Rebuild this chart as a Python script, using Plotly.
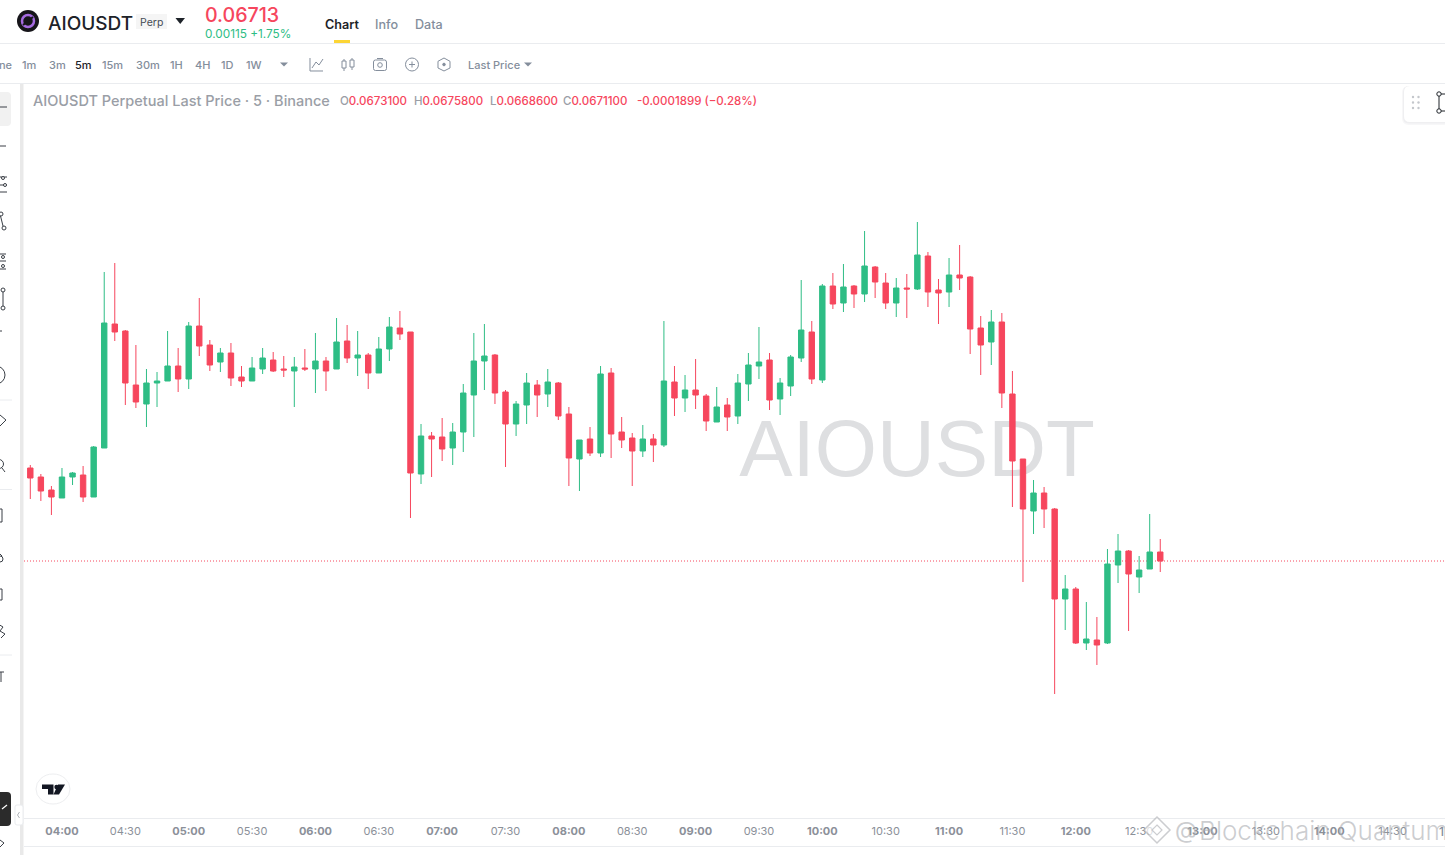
import pandas as pd
import plotly.graph_objects as go

W, H = 1445, 855
PLOT_L, PLOT_T, PLOT_B = 24, 84, 818

# Candle values, price x 1e5 (5 minute candles from 03:45)
highs_raw = [6903,6885,6861,6897,6889,6901,6941,7289,7307,7173,
             7143,7095,7089,7171,7137,7189,7237,7153,7137,7147,
             7101,7119,7137,7129,7121,7119,7135,7167,7119,7197,
             7183,7171,7127,7159,7199,7211,7169,6985,6969,6997,
             6987,7065,7167,7185,7125,7053,7031,7087,7073,7095,
             7069,7019,6953,6979,7101,7097,6999,6967,6983,6965,
             7191,7101,7083,7115,7045,7059,7037,7085,7127,7179,
             7127,7077,7123,7273,7191,7265,7287,7305,7263,7371,
             7301,7287,7277,7285,7389,7329,7275,7317,7343,7281,
             7201,7213,7207,7091,6915,6873,6859,6817,6683,6659,
             6629,6599,6735,6765,6733,6721,6805,6755]
lows_raw = [6835,6831,6803,6837,6863,6829,6839,6937,7151,7023,
            7017,6979,7019,7071,7049,7055,7121,7091,7089,7061,
            7059,7071,7085,7089,7079,7019,7091,7047,7051,7095,
            7107,7081,7055,7087,7111,7153,6797,6865,6879,6911,
            6903,6929,6959,7053,7025,6899,6961,6985,6999,7019,
            6993,6861,6851,6921,6919,6917,6937,6861,6919,6909,
            6939,7001,7009,7015,6971,6989,6971,6985,7031,7075,
            7013,7003,7041,7109,7065,7067,7215,7209,7217,7229,
            7237,7215,7199,7197,7253,7219,7185,7219,7253,7125,
            7083,7103,7017,6819,6669,6765,6777,6445,6573,6545,
            6533,6503,6545,6667,6571,6647,6695,6689]
opens_raw = [6897,6879,6853,6837,6879,6883,6839,6937,7185,7171,
             7063,7025,7067,7071,7101,7075,7181,7143,7109,7127,
             7079,7071,7095,7113,7095,7091,7097,7095,7111,7095,
             7151,7117,7123,7087,7135,7177,7169,6885,6961,6959,
             6937,6969,7043,7111,7123,7049,6985,7023,7063,7045,
             7067,7005,6915,6955,6927,7087,6969,6957,6931,6955,
             6943,7069,7037,7053,7041,6989,7023,7001,7065,7101,
             7113,7035,7061,7117,7169,7073,7261,7227,7261,7245,
             7299,7267,7227,7257,7255,7321,7253,7249,7283,7279,
             7177,7149,7189,7045,6915,6811,6847,6815,6635,6655,
             6547,6553,6547,6703,6731,6679,6695,6729]
closes_raw = [6877,6851,6839,6879,6887,6839,6939,7187,7169,7067,
              7029,7067,7071,7101,7075,7181,7141,7103,7127,7077,
              7071,7097,7117,7091,7093,7099,7095,7111,7091,7149,
              7117,7123,7087,7135,7179,7165,6887,6961,6955,6935,
              6969,7047,7111,7121,7047,6985,7025,7067,7043,7069,
              7001,6917,6953,6927,7085,6965,6953,6931,6955,6943,
              7071,7037,7053,7043,6991,7019,6999,7067,7103,7109,
              7033,7067,7119,7173,7075,7261,7225,7259,7245,7301,
              7269,7227,7257,7255,7323,7249,7247,7283,7277,7175,
              7143,7189,7047,6911,6815,6847,6815,6635,6655,6547,
              6555,6543,6705,6731,6685,6693,6729,6711]
times = pd.date_range("2025-01-01 03:45", periods=len(opens_raw), freq="5min")

last_price = 0.06711
tick_labels = ["04:00","04:30","05:00","05:30","06:00","06:30","07:00","07:30","08:00",
               "08:30","09:00","09:30","10:00","10:30","11:00","11:30","12:00","12:30",
               "13:00","13:30","14:00","14:30"]
tick_vals = ["2025-01-01 " + t for t in tick_labels]
tick_text = [f"<b>{t}</b>" if t.endswith(":00") else t for t in tick_labels]

intervals = [("1m",22),("3m",49),("5m",75),("15m",102),("30m",136),("1H",170),("4H",195),("1D",221),("1W",246)]
ohlc_labels = [("O","0.0673100",340),("H","0.0675800",414),("L","0.0668600",490),("C","0.0671100",563)]

RED, GREEN = "#F6465D", "#2EBD85"
GREY, LINE = "#848E9C", "#EAECEF"
FONT = "Inter, Roboto, sans-serif"


def X(x): return x / W
def Y(y): return 1 - y / H


shapes, annos = [], []


def seg(x0, y0, x1, y1, color=GREY, width=1, dash="solid"):
    shapes.append(dict(type="line", xref="paper", yref="paper", x0=X(x0), y0=Y(y0), x1=X(x1), y1=Y(y1),
                       line=dict(color=color, width=width, dash=dash), layer="above"))


def rect(x0, y0, x1, y1, fill, line=None, width=1):
    shapes.append(dict(type="rect", xref="paper", yref="paper", x0=X(x0), y0=Y(y0), x1=X(x1), y1=Y(y1),
                       fillcolor=fill, line=dict(color=line or "rgba(0,0,0,0)", width=width if line else 0), layer="above"))


def circ(cx, cy, rx, ry=None, fill="rgba(0,0,0,0)", line=GREY, width=1):
    ry = rx if ry is None else ry
    shapes.append(dict(type="circle", xref="paper", yref="paper", x0=X(cx-rx), y0=Y(cy-ry), x1=X(cx+rx), y1=Y(cy+ry),
                       fillcolor=fill, line=dict(color=line or "rgba(0,0,0,0)", width=width if line else 0), layer="above"))


def poly(pts, fill="rgba(0,0,0,0)", line=GREY, width=1, close=True):
    d = "M" + " L".join(f"{X(a):.5f},{Y(b):.5f}" for a, b in pts) + (" Z" if close else "")
    shapes.append(dict(type="path", xref="paper", yref="paper", path=d, fillcolor=fill,
                       line=dict(color=line or "rgba(0,0,0,0)", width=width if line else 0), layer="above"))


def rrect(x0, y0, x1, y1, r, fill, line=None, width=1):
    f = lambda a, b: f"{X(a):.5f},{Y(b):.5f}"
    d = (f"M{f(x0+r,y0)} L{f(x1-r,y0)} Q{f(x1,y0)} {f(x1,y0+r)} L{f(x1,y1-r)} Q{f(x1,y1)} {f(x1-r,y1)} "
         f"L{f(x0+r,y1)} Q{f(x0,y1)} {f(x0,y1-r)} L{f(x0,y0+r)} Q{f(x0,y0)} {f(x0+r,y0)} Z")
    shapes.append(dict(type="path", xref="paper", yref="paper", path=d, fillcolor=fill,
                       line=dict(color=line or "rgba(0,0,0,0)", width=width if line else 0), layer="above"))


def txt(x, y, s, size, color=GREY, anchor="left", weight=None, family=FONT):
    annos.append(dict(xref="paper", yref="paper", x=X(x), y=Y(y), text=s, showarrow=False, xanchor=anchor,
                      yanchor="middle", borderpad=0, borderwidth=0,
                      font=dict(size=size, color=color, family=family, weight=weight)))


# Header
circ(28, 21, 11, fill="#16151a", line=None)
circ(28, 21, 6, line="#A56BE0", width=2.5)
seg(23, 25, 33, 17, "#16151a", 2)
txt(48, 23.5, "AIOUSDT", 19, "#1E2329", weight=500)
rect(136, 14, 167, 29, "#F5F5F5")
txt(151.5, 22, "Perp", 10.5, "#474D57", "center")
poly([(175.5, 18), (185, 18), (180.2, 24)], fill="#1E2329", line=None)
txt(205, 15.5, "0.06713", 19.6, RED, weight=500)
txt(205, 34, "0.00115 +1.75%", 11.8, GREEN)
txt(325, 24.5, "Chart", 12.6, "#1E2329", weight=600)
txt(375, 24.5, "Info", 12.6, GREY, weight=500)
txt(415, 24.5, "Data", 12.6, GREY, weight=500)
rect(334, 40, 350, 43, "#FCD535")
seg(0, 43.5, W, 43.5, LINE)
seg(0, 83.5, W, 83.5, LINE)

# Interval row
txt(-1, 65, "ne", 11, GREY, weight=500)
for lab, x in intervals:
    txt(x, 65, lab, 11, "#1E2329" if lab == "5m" else GREY, weight=500)
poly([(280, 62.5), (288, 62.5), (284, 66.5)], fill=GREY, line=None)
poly([(310, 58), (310, 71), (323, 71)], close=False)
poly([(312, 68), (316, 62), (319, 65), (323, 59)], close=False)
seg(344, 59, 344, 71); rect(342, 61, 346, 68, "white", GREY)
seg(352, 58, 352, 70); rect(350, 60, 354, 67, "white", GREY)
rrect(373.5, 60, 386.5, 70.5, 2, "white", GREY); circ(380, 65, 2.3); seg(377, 58.5, 383, 58.5)
circ(412, 64.5, 6.5); seg(409, 64.5, 415, 64.5); seg(412, 61.5, 412, 67.5)
poly([(444, 58), (450, 61.3), (450, 68), (444, 71), (438, 68), (438, 61.3)]); circ(444, 64.5, 1.3, fill=GREY)
txt(468, 65.5, "Last Price", 11, GREY, weight=500)
poly([(524, 62.5), (532, 62.5), (528, 66.5)], fill=GREY, line=None)

# Chart legend
txt(33, 100.5, "AIOUSDT Perpetual Last Price · 5 · Binance", 14.5, "#9A9EA6", weight=500)
def sp(c, s): return f'<span style="color:{c}">{s}</span>'
for letter, value, xpos in ohlc_labels:
    txt(xpos, 100.5, letter + sp(RED, value), 11.5, "#9A9EA6", weight=500)
txt(637, 100.5, "-0.0001899 (−0.28%)", 11.5, RED, weight=500)

# Left drawing bar (cut off by the page edge)
rect(20, 84, 23.5, H, "#E9E9E9")
rrect(-6, 92, 11, 126, 4, "#F1F1F1")
INK = "#3A3F46"
seg(0, 107, 7, 107, INK)
seg(0, 146, 6, 146, INK)
for yy in (177, 185, 192):
    seg(0, yy, 7, yy, INK)
circ(3, 178, 1.5, fill="white", line=INK); circ(5, 185, 1.5, fill="white", line=INK)
poly([(0, 214), (3, 226), (5, 228)], line=INK, close=False)
circ(1, 214, 2, fill="white", line=INK); circ(4, 228, 2, fill="white", line=INK)
for yy in (254, 261, 269):
    seg(0, yy, 6, yy, INK)
circ(3, 257, 1.5, fill="white", line=INK); circ(3, 266, 1.5, fill="white", line=INK)
seg(3, 290, 3, 308, INK)
circ(3, 290, 2, fill="white", line=INK); circ(3, 308, 2, fill="white", line=INK)
seg(0, 331, 2, 331, INK)
circ(-4, 375, 9, line=INK)
seg(0, 400, 12, 400, LINE)
poly([(0, 415), (6, 420), (0, 426)], line=INK, close=False)
circ(-1, 464, 4.5, line=INK); seg(2, 468, 5, 472, INK)
seg(0, 489.5, 12, 489.5, LINE)
rect(-4, 509, 2, 522, "white", INK)
seg(-2, 552, 2, 556, INK); circ(0, 559, 3, line=INK)
rect(-4, 589, 2, 600, "white", INK)
poly([(-2, 624), (3, 627), (0, 631), (5, 634), (1, 638)], line=INK, close=False)
seg(0, 655, 12, 655, LINE)
seg(-2, 672, 4, 672, INK); seg(1, 672, 1, 682, INK)
rrect(-6, 792, 11, 826, 4, "#2B2B2B")
seg(2, 809, 7, 805, "white", 1.2)
rrect(15, 805, 23, 825, 2, "white", LINE)
poly([(19.5, 812), (17.5, 815), (19.5, 818)], line="#B0B4BA", close=False)
poly([(0, 840), (4, 843), (0, 847)], line=INK, close=False)

# Floating toolbar at top right
rrect(1402, 86, 1450, 125, 7, "#F7F7F8")
rrect(1403, 86, 1450, 123.5, 6, "#EFEFF1")
rrect(1404, 86, 1450, 122, 6, "white")
for xx in (1413, 1418.5):
    for yy in (97, 102.5, 108):
        circ(xx, yy, 1.2, fill="#C4C7CC", line=None)
seg(1439, 94, 1439, 111, "#1E2329")
seg(1441, 94, 1445, 94, "#1E2329"); seg(1441, 111, 1445, 111, "#1E2329")
circ(1439, 94, 2.2, fill="white", line="#1E2329"); circ(1439, 111, 2.2, fill="white", line="#1E2329")

# Bottom
seg(24, 818.5, W, 818.5, LINE)
seg(24, 846.5, W, 846.5, LINE)
circ(53, 789, 17, 15, fill="white", line="#EDEEF0")
poly([(42, 784.5), (53.5, 784.5), (53.5, 794.5), (48, 794.5), (48, 789), (42, 789)], fill="#131722", line=None)
poly([(58, 784.5), (65, 784.5), (59, 794.5), (53.5, 794.5)], fill="#131722", line=None)
circ(56.5, 787, 2.2, fill="#131722", line=None)

# Repost watermark
WM = "rgba(170,172,176,0.6)"
poly([(1157, 817), (1170, 830), (1157, 843), (1144, 830)], fill="rgba(255,255,255,0.7)", line=WM, width=1.5)
poly([(1157, 825), (1162, 830), (1157, 835), (1152, 830)], fill="rgba(255,255,255,0.7)", line=WM, width=1.2)
txt(1175, 830, "@", 23, WM)
txt(1199, 830, "Blockchain Quantum", 26, WM, weight=300)
txt(1441, 831, "1", 12, GREY, "center", weight=500)

fig = go.Figure()
fig.add_trace(go.Scatter(x=[(917 - PLOT_L) / (W - PLOT_L)], y=[(PLOT_B - 456) / (PLOT_B - PLOT_T)], mode="text",
                         text=["AIOUSDT"], textposition="middle center",
                         textfont=dict(size=80, color="#DEDFE1", family="Liberation Sans, Arial, sans-serif"),
                         xaxis="x", yaxis="y", showlegend=False, hoverinfo="skip", cliponaxis=False))
fig.add_trace(go.Candlestick(x=times,
                             open=[v / 1e5 for v in opens_raw], high=[v / 1e5 for v in highs_raw],
                             low=[v / 1e5 for v in lows_raw], close=[v / 1e5 for v in closes_raw],
                             increasing=dict(line=dict(color=GREEN, width=1), fillcolor=GREEN),
                             decreasing=dict(line=dict(color=RED, width=1), fillcolor=RED),
                             whiskerwidth=0, xaxis="x2", yaxis="y2", showlegend=False))

shapes.insert(0, dict(type="line", xref="paper", yref="y2", x0=X(PLOT_L), x1=1, y0=last_price, y1=last_price,
                      line=dict(color=RED, width=1, dash="1px,2px"), layer="below"))

dom_x = [PLOT_L / W, 1]
dom_y = [1 - PLOT_B / H, 1 - PLOT_T / H]
fig.update_layout(
    width=W, height=H, margin=dict(l=0, r=0, t=0, b=0), paper_bgcolor="white", plot_bgcolor="white",
    boxgap=0.27, showlegend=False, font=dict(family=FONT),
    xaxis=dict(domain=dom_x, range=[0, 1], visible=False, fixedrange=True),
    yaxis=dict(domain=dom_y, range=[0, 1], visible=False, fixedrange=True),
    xaxis2=dict(domain=dom_x, overlaying="x", anchor="y2", side="bottom", type="date",
                range=["2025-01-01 03:42:01", "2025-01-01 14:54:49"],
                tickmode="array", tickvals=tick_vals, ticktext=tick_text, tickangle=0,
                tickfont=dict(size=11, color="#8B9099", family=FONT), ticklabelstandoff=5,
                ticks="", showgrid=False, zeroline=False, showline=False,
                rangeslider=dict(visible=False), automargin=False),
    yaxis2=dict(domain=dom_y, overlaying="y", anchor="x2", side="right", range=[0.06197, 0.07665],
                showticklabels=False, ticks="", showgrid=False, zeroline=False, showline=False, automargin=False),
    shapes=shapes, annotations=annos,
)
fig.write_html("out.html", config={"displayModeBar": False},
               post_script="document.body.style.margin='0';document.body.style.overflow='hidden';")
